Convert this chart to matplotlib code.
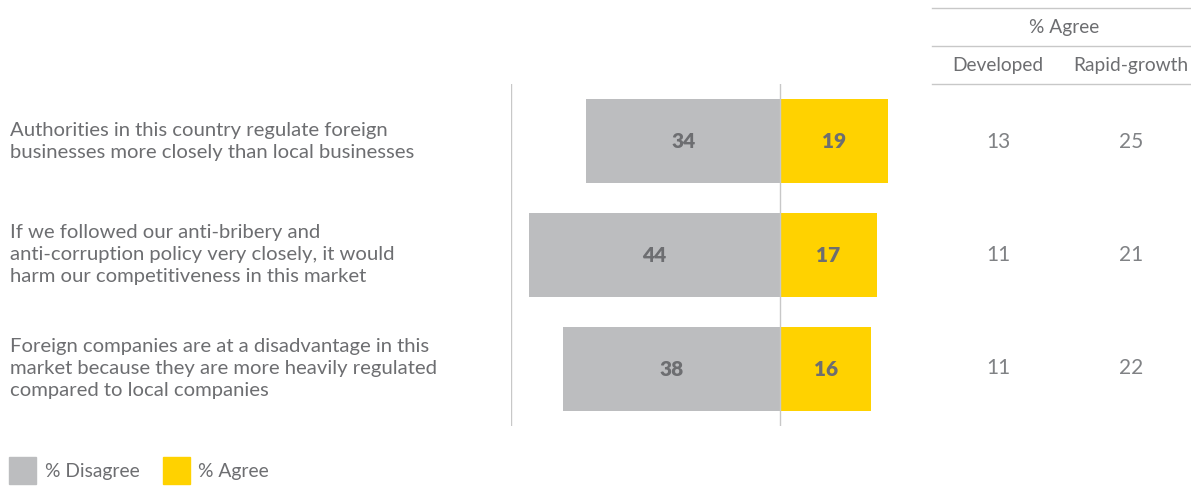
import matplotlib
matplotlib.use('Agg')
import matplotlib.pyplot as plt
from matplotlib.patches import Rectangle
from matplotlib.lines import Line2D

# Survey statements and responses
statements = [
    'Authorities in this country regulate foreign\nbusinesses more closely than local businesses',
    'If we followed our anti-bribery and\nanti-corruption policy very closely, it would\nharm our competitiveness in this market',
    'Foreign companies are at a disadvantage in this\nmarket because they are more heavily regulated\ncompared to local companies',
]
disagree = [34, 44, 38]
agree = [19, 17, 16]
developed = [13, 11, 11]
rapid_growth = [25, 21, 22]

GREY = '#bcbdbf'
YELLOW = '#ffd200'
TEXT = '#6d6e71'
LIGHT = '#808285'
LINE = '#c8c8c8'

W, H = 1191, 486
plt.rcParams['font.family'] = ['Lato', 'DejaVu Sans']

fig = plt.figure(figsize=(W / 100, H / 100), dpi=100)


def fx(x):
    return x / W


def fy(y):
    return 1 - y / H


# bar axes: spans x 511..920 px, y 84..426 px
ax = fig.add_axes([fx(511), fy(426), fx(920) - fx(511), (426 - 84) / H])
scale = 5.7
ax.set_xlim((511 - 780) / scale, (920 - 780) / scale)
ax.set_ylim(2.5, -0.5)
ax.axis('off')

rows = range(len(statements))
ax.barh(rows, [-d for d in disagree], height=0.73, color=GREY)
ax.barh(rows, agree, height=0.73, color=YELLOW)
for i in rows:
    ax.text(-disagree[i] / 2, i, str(disagree[i]), ha='center', va='center',
            fontsize=15, fontweight='heavy', color=TEXT)
    ax.text(agree[i] / 2, i, str(agree[i]), ha='center', va='center',
            fontsize=15, fontweight='heavy', color=TEXT)
ax.axvline(0, color=LINE, lw=1)
ax.axvline(ax.get_xlim()[0], color=LINE, lw=1)

# row labels
row_y = [141.5, 254.5, 368.5]
for i in rows:
    fig.text(fx(10), fy(row_y[i]), statements[i], ha='left', va='center',
             fontsize=14.6, color=TEXT, linespacing=1.38)
    fig.text(fx(998), fy(row_y[i]), str(developed[i]), ha='center', va='center',
             fontsize=15, color=LIGHT)
    fig.text(fx(1131), fy(row_y[i]), str(rapid_growth[i]), ha='center', va='center',
             fontsize=15, color=LIGHT)

# table header
for y in [8, 46, 84]:
    fig.add_artist(Line2D([fx(932), fx(1191)], [fy(y), fy(y)], color=LINE, lw=1))
fig.text(fx(1064), fy(28), '% Agree', ha='center', va='center', fontsize=13.8, color=TEXT)
fig.text(fx(998), fy(66), 'Developed', ha='center', va='center', fontsize=13.8, color=TEXT)
fig.text(fx(1131), fy(66), 'Rapid-growth', ha='center', va='center', fontsize=13.8, color=TEXT)

# legend
fig.add_artist(Rectangle((fx(9), fy(484)), 27 / W, 27 / H, color=GREY,
                         transform=fig.transFigure))
fig.text(fx(45), fy(471), '% Disagree', ha='left', va='center', fontsize=13.9, color=TEXT)
fig.add_artist(Rectangle((fx(163), fy(484)), 27 / W, 27 / H, color=YELLOW,
                         transform=fig.transFigure))
fig.text(fx(198), fy(471), '% Agree', ha='left', va='center', fontsize=13.9, color=TEXT)

fig.savefig('out.png', dpi=100)
